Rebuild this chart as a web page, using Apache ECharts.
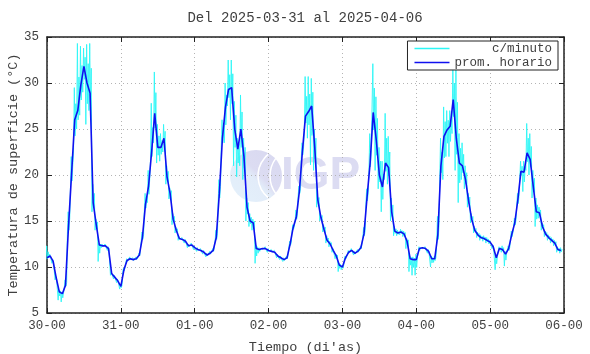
<!DOCTYPE html>
<html>
<head>
<meta charset="utf-8">
<script src="https://cdn.jsdelivr.net/npm/echarts@6/dist/echarts.min.js"></script>
<style>
  html, body { margin: 0; padding: 0; background: #fff; }
  #chart { width: 590px; height: 354px; }
</style>
</head>
<body>
<div id="chart"></div>
<script>
// etiquetas del eje x (un tick cada 24 h)
var tickLabels = ["30-00", "31-00", "01-00", "02-00", "03-00", "04-00", "05-00", "06-00"];
var yTicks = [5, 10, 15, 20, 25, 30, 35];

// promedio horario (°C), una hora por valor
var promHorario = [
  11.0, 11.2, 10.6, 8.8, 7.3, 7.1, 8.0, 14.5, 20.2, 26.0, 27.0, 29.8, 31.8, 30.0, 28.9, 17.0, 14.6, 12.4, 12.3, 12.3, 12.0, 9.3, 8.9, 8.5,
  7.9, 9.7, 10.7, 10.9, 10.8, 10.9, 11.3, 13.2, 16.8, 18.8, 22.5, 26.7, 23.0, 23.0, 24.0, 19.8, 18.0, 15.2, 14.0, 13.1, 13.0, 12.8, 12.3, 12.4,
  12.1, 11.9, 11.8, 11.6, 11.3, 11.5, 11.8, 13.2, 18.0, 24.0, 27.4, 29.3, 29.5, 25.0, 22.8, 25.0, 22.0, 16.5, 15.0, 14.8, 12.0, 11.9, 12.0, 12.0,
  11.8, 11.7, 11.6, 11.2, 11.0, 10.8, 11.0, 12.5, 14.3, 15.4, 18.2, 22.6, 26.4, 26.9, 27.5, 23.0, 17.3, 15.4, 14.1, 12.9, 12.5, 11.8, 11.2, 10.2,
  10.0, 11.0, 11.6, 11.8, 11.5, 11.7, 12.1, 13.6, 17.6, 21.3, 26.8, 23.8, 20.0, 18.7, 21.3, 20.8, 16.0, 13.9, 13.7, 13.8, 13.6, 12.8, 10.9, 10.8,
  10.8, 12.0, 12.1, 12.0, 11.7, 10.9, 10.9, 13.5, 21.0, 24.2, 24.9, 25.3, 28.2, 24.0, 21.3, 21.0, 19.5, 17.2, 15.2, 14.0, 13.5, 13.2, 13.1, 12.9,
  12.7, 12.2, 11.0, 12.0, 11.9, 11.4, 12.0, 13.5, 14.8, 17.3, 20.4, 20.3, 22.4, 21.7, 18.8, 16.0, 15.9, 14.4, 13.6, 13.2, 12.9, 12.6, 11.9, 11.8
];

var minutoMax = [
  12.3, 11.4, 10.8, 9.0, 7.5, 7.3, 8.6, 16.0, 22.0, 29.5, 34.3, 34.0, 33.8, 34.2, 34.3, 19.0, 15.2, 12.6, 12.5, 12.5, 12.2, 9.5, 9.1, 8.7,
  8.1, 9.9, 10.9, 11.1, 11.0, 11.1, 11.5, 13.8, 18.0, 20.5, 27.8, 31.2, 25.5, 24.5, 25.5, 21.0, 18.6, 15.8, 14.3, 13.3, 13.2, 13.0, 12.5, 12.6,
  12.3, 12.1, 12.0, 11.8, 11.5, 11.7, 12.0, 14.0, 19.5, 26.0, 30.0, 32.5, 32.5, 28.0, 24.0, 28.7, 24.0, 17.5, 15.8, 15.2, 12.4, 12.1, 12.2, 12.2,
  12.0, 11.9, 11.8, 11.4, 11.2, 11.0, 11.2, 12.8, 14.6, 16.2, 18.8, 23.5, 30.7, 30.7, 30.5, 25.0, 17.8, 15.8, 14.6, 13.4, 12.8, 12.0, 11.4, 10.4,
  10.2, 11.2, 11.8, 12.0, 11.7, 11.9, 12.3, 14.3, 18.5, 24.5, 32.1, 28.5, 23.0, 21.5, 26.7, 24.2, 17.5, 14.4, 14.0, 14.1, 13.9, 13.1, 11.2, 11.1,
  11.4, 12.2, 12.3, 12.2, 11.9, 11.2, 11.2, 15.5, 24.0, 27.4, 27.0, 27.0, 31.8, 31.8, 24.5, 23.5, 21.0, 18.0, 15.8, 14.4, 13.8, 13.5, 13.4, 13.2,
  12.9, 12.4, 11.3, 12.2, 12.3, 11.7, 12.3, 13.9, 15.3, 18.0, 21.5, 21.5, 25.6, 24.5, 20.5, 17.5, 16.5, 14.8, 13.9, 13.5, 13.2, 12.9, 12.2, 12.1
];
var minutoMin = [
  10.8, 11.0, 10.4, 8.6, 6.4, 6.2, 7.8, 13.5, 18.5, 22.5, 25.0, 26.5, 29.0, 25.5, 27.0, 16.0, 14.0, 10.6, 12.1, 12.1, 11.8, 9.1, 8.7, 8.3,
  7.6, 9.5, 10.5, 10.7, 10.6, 10.7, 11.1, 12.8, 16.0, 17.0, 21.5, 23.5, 21.3, 21.5, 22.5, 19.0, 17.4, 14.6, 13.7, 12.9, 12.8, 12.6, 12.1, 12.2,
  11.9, 11.7, 11.6, 11.4, 11.1, 11.3, 11.6, 12.8, 17.0, 23.0, 23.5, 27.5, 26.0, 21.0, 19.8, 21.0, 19.5, 15.0, 14.4, 14.0, 10.4, 11.5, 11.8, 11.8,
  11.6, 11.5, 11.4, 11.0, 10.8, 10.6, 10.8, 12.2, 13.9, 15.0, 17.8, 21.8, 24.9, 24.0, 21.1, 20.5, 16.5, 15.0, 13.8, 12.6, 12.2, 11.6, 10.9, 9.5,
  9.7, 10.8, 11.4, 11.6, 11.3, 11.5, 11.9, 13.2, 16.8, 20.5, 23.0, 20.5, 18.5, 16.0, 19.5, 19.0, 15.0, 13.4, 13.4, 13.5, 13.3, 12.0, 9.5, 9.1,
  9.1, 11.6, 11.9, 11.8, 11.5, 10.0, 10.5, 12.5, 19.5, 19.5, 22.0, 22.0, 24.5, 20.5, 17.0, 19.5, 18.5, 16.5, 14.8, 13.7, 13.2, 12.9, 12.8, 12.6,
  12.5, 12.0, 9.7, 11.7, 11.6, 10.1, 11.6, 13.1, 14.3, 16.5, 19.5, 18.2, 20.5, 20.0, 17.5, 14.4, 15.3, 14.0, 13.3, 12.9, 12.6, 12.3, 11.6, 11.5
];

var fuente = '"Liberation Mono", "DejaVu Sans Mono", monospace';
var gris = "#404040";

var chart = echarts.init(document.getElementById("chart"));

var horario = promHorario.map(function(v, i) { return [i, v]; });
// trazos bajo/alto dentro de cada hora
var minuto = [];
for (var i = 0; i < minutoMax.length; i++) {
  minuto.push([i - 0.38, minutoMin[i]]);
  minuto.push([i - 0.12, minutoMax[i]]);
  minuto.push([i + 0.12, (minutoMin[i] + promHorario[i]) / 2]);
  minuto.push([i + 0.38, (minutoMax[i] + promHorario[i]) / 2]);
}

var ejeX = {
  type: "value",
  min: 0,
  max: 168,
  interval: 24,
  axisLine: { show: true, onZero: false, lineStyle: { color: "#222", width: 1.5 } },
  axisTick: { show: true, inside: true, length: 5, lineStyle: { color: "#222" } }
};
var ejeY = {
  type: "value",
  min: yTicks[0],
  max: yTicks[yTicks.length - 1],
  interval: 5,
  axisLine: { show: true, onZero: false, lineStyle: { color: "#222", width: 1.5 } },
  axisTick: { show: true, inside: true, length: 5, lineStyle: { color: "#222" } }
};

var option = {
  animation: false,
  backgroundColor: "#fff",
  grid: { left: 47, right: 26, top: 37, bottom: 41, containLabel: false, outerBoundsMode: "none" },
  graphic: [
    {
      type: "circle",
      z: 0,
      shape: { cx: 256, cy: 176, r: 26 },
      style: {
        fill: new echarts.graphic.LinearGradient(0, 1, 1, 0, [
          { offset: 0, color: "#e4f1fb" },
          { offset: 0.45, color: "#e2ecf9" },
          { offset: 0.55, color: "#dcdcf2" },
          { offset: 1, color: "#d8d8f0" }
        ])
      }
    },
    {
      type: "arc", z: 0,
      shape: { cx: 286, cy: 176, r: 28, startAngle: Math.PI * 0.72, endAngle: Math.PI * 1.28 },
      style: { stroke: "#fff", lineWidth: 1.5, fill: null }
    },
    {
      type: "arc", z: 0,
      shape: { cx: 300, cy: 176, r: 30, startAngle: Math.PI * 0.8, endAngle: Math.PI * 1.2 },
      style: { stroke: "#fff", lineWidth: 1.5, fill: null }
    },
    {
      type: "text", z: 0,
      style: {
        text: "IGP", x: 281, y: 176,
        font: 'bold 46px "Liberation Sans", Arial, sans-serif',
        fill: "#dcdcf2", verticalAlign: "middle"
      }
    },
    {
      type: "text", z: 10,
      style: {
        text: "Del 2025-03-31 al 2025-04-06", x: 305, y: 18,
        font: '14px ' + fuente, fill: gris, align: "center", verticalAlign: "middle"
      }
    },
    {
      type: "text", z: 10,
      x: 13, y: 175, rotation: Math.PI / 2,
      style: {
        text: "Temperatura de superficie (°C)", x: 0, y: 0,
        font: '13.5px ' + fuente, fill: gris, align: "center", verticalAlign: "middle"
      }
    }
  ],
  legend: {
    orient: "vertical",
    right: 32,
    top: 41,
    backgroundColor: "#fff",
    borderColor: "#222",
    borderWidth: 1,
    borderRadius: 0,
    padding: [1, 6, 1, 7],
    itemGap: 1,
    itemWidth: 35,
    itemHeight: 1.5,
    icon: "rect",
    textStyle: { fontFamily: fuente, fontSize: 12.5, color: gris, lineHeight: 12 },
    formatter: function(name) {
      return name === "c/minuto" ? "     c/minuto" : name;
    },
    data: ["c/minuto", "prom. horario"]
  },
  xAxis: [
    Object.assign({}, ejeX, {
      position: "bottom",
      name: "Tiempo (di'as)",
      nameLocation: "middle",
      nameGap: 27,
      nameTextStyle: { fontFamily: fuente, fontSize: 13.5, color: gris },
      axisLabel: {
        margin: 6,
        fontFamily: fuente,
        fontSize: 12.5,
        color: gris,
        formatter: function(v) { return tickLabels[Math.round(v / 24)]; }
      },
      splitLine: { show: true, lineStyle: { color: "#b4b4b4", type: [1, 3], width: 1 } }
    }),
    Object.assign({}, ejeX, {
      position: "top",
      axisLabel: { show: false },
      splitLine: { show: false }
    })
  ],
  yAxis: [
    Object.assign({}, ejeY, {
      position: "left",
      axisLabel: { margin: 8, fontFamily: fuente, fontSize: 12.5, color: gris },
      splitLine: { show: true, lineStyle: { color: "#b4b4b4", type: [1, 3], width: 1 } }
    }),
    Object.assign({}, ejeY, {
      position: "right",
      axisLabel: { show: false },
      splitLine: { show: false }
    })
  ],
  series: [
    {
      name: "c/minuto",
      type: "line",
      xAxisIndex: 0,
      yAxisIndex: 0,
      symbol: "none",
      z: 3,
      color: "#2cf6f6",
      lineStyle: { color: "#2cf6f6", width: 0.9 },
      data: minuto
    },
    {
      name: "prom. horario",
      type: "line",
      xAxisIndex: 0,
      yAxisIndex: 0,
      symbol: "none",
      z: 4,
      color: "#1010f0",
      lineStyle: { color: "#1010f0", width: 1.6 },
      data: horario
    }
  ]
};
chart.setOption(option);
</script>
</body>
</html>
